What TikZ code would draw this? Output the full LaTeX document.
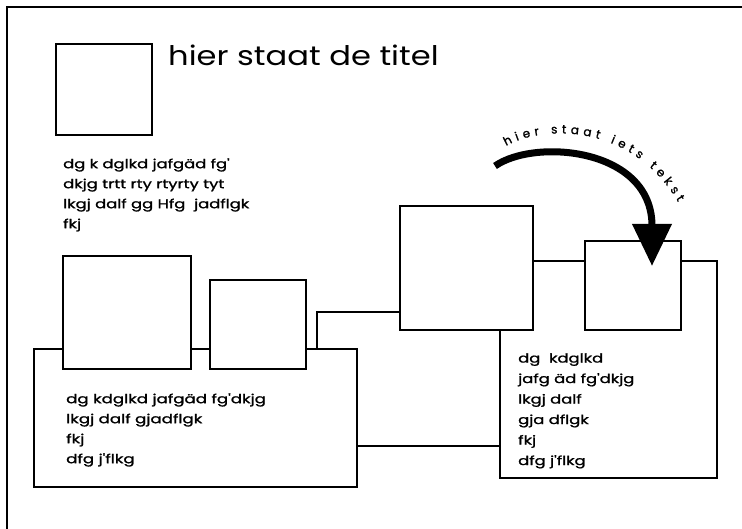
\documentclass[tikz,border=0pt]{standalone}
\usepackage{fontspec}
\setmainfont{Poppins}
\newfontfamily\bodyfont[FakeBold=1.2]{Poppins}
\usetikzlibrary{calc,arrows.meta,decorations.text}
\newcommand{\widetext}[2]{\scalebox{#1}[1]{\begin{tabular}{@{}l@{}}#2\end{tabular}}}
\begin{document}
\begin{tikzpicture}[x=1pt,y=-1pt,
  box/.style={draw, line width=1.5pt, fill=white, inner sep=0pt, outer sep=0pt, anchor=north west},
  conn/.style={line width=1.5pt},
  txt/.style={anchor=north west, inner sep=0pt, font=\bodyfont\fontsize{12.5}{20}\selectfont},
  frame/.style={line width=2pt}]
\useasboundingbox (0,0) rectangle (742,529);
\fill[white] (0,0) rectangle (742,529);
\draw[frame] (7,529) -- (7,7) -- (742,7);

% title
\node[box, minimum width=96, minimum height=91] (T) at (56,44) {};
\node[anchor=base west, inner sep=0pt, font=\fontsize{27}{30}\selectfont] (title) at (168,66) {\scalebox{1.19}[1]{hier staat de titel}};
\node[txt] (t1) at (63,154) {\widetext{1.31}{dg k dglkd jafgäd fg'\\dkjg trtt rty rtyrty tyt\\lkgj dalf gg Hfg\ \ jadflgk\\fkj}};

% lower left group
\node[box, minimum width=323, minimum height=138] (L) at (34,349) {};
\node[box, minimum width=128, minimum height=113] (A) at (63,256) {};
\node[box, minimum width=96, minimum height=89] (B) at (210,280) {};
\node[txt] (t2) at (66,389) {\widetext{1.33}{dg kdglkd jafgäd fg'dkjg\\lkgj dalf gjadflgk\\fkj\\dfg j'flkg}};

% right group
\node[box, minimum width=217, minimum height=217] (R) at (500,261) {};
\node[box, minimum width=133, minimum height=124] (M) at (400,206) {};
\node[box, minimum width=96, minimum height=89] (S) at (585,241) {};
\node[txt, font=\bodyfont\fontsize{12.5}{20.5}\selectfont] (t3) at (518,348) {\widetext{1.31}{dg\ \ kdglkd\\jafg äd fg'dkjg\\lkgj dalf\\gja dflgk\\fkj\\dfg j'flkg}};

% connectors
\coordinate (lm) at ($(L.north west)+(283,0)$);
\draw[conn] (lm) |- ($(M.south west)+(0,-18)$);
\coordinate (lr) at ($(L.south east)+(0,-41)$);
\draw[conn] (lr) -- (lr -| R.west);

% curved arrow
\coordinate (atail) at (495,166);
\coordinate (ahead) at (652,266);
\draw[line width=7pt, -{Triangle[width=38pt,length=42pt]}] (atail) .. controls (535,138) and (652,148) .. (ahead);
\coordinate (tstart) at (506,146);
\coordinate (tend) at (678,202);
\path[decorate, decoration={text along path,
  text={|\bodyfont\fontsize{12}{12}\selectfont|hier staat iets tekst},
  text align=fit to path}]
  (tstart) .. controls (545,124) and (632,124) .. (tend);
\end{tikzpicture}
\end{document}
